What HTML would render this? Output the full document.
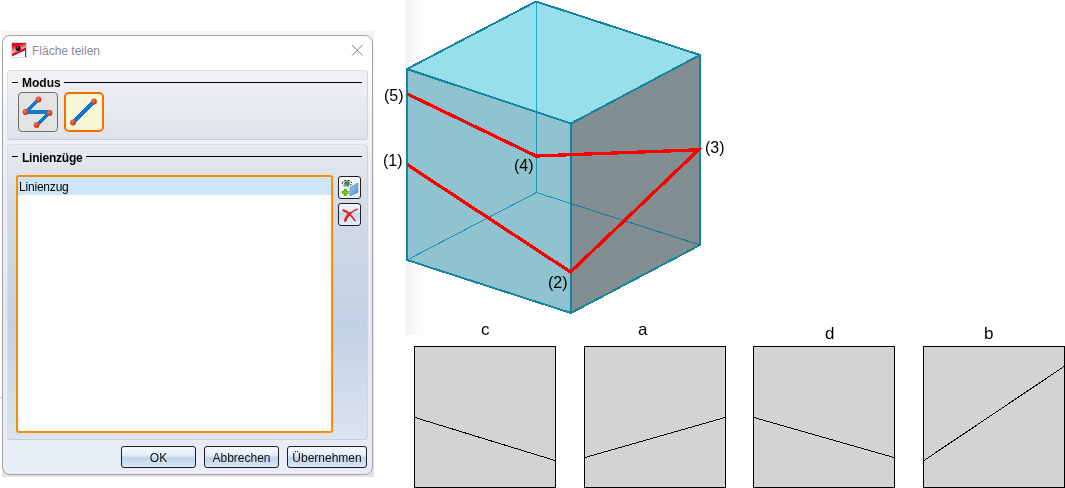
<!DOCTYPE html>
<html><head><meta charset="utf-8">
<style>
*{box-sizing:border-box;margin:0;padding:0}
svg,.hdr,.btn,.txt{will-change:transform}
html,body{width:1065px;height:488px;overflow:hidden;background:#fff;font-family:"Liberation Sans",sans-serif;position:relative}
.abs{position:absolute}
#shadow{left:2px;top:31px;width:372px;height:446px;background:linear-gradient(to bottom,#f4f4f4,#ececec 60%,#e2e2e2)}
#dlg{left:2px;top:35px;width:371px;height:440px;border:1px solid #a4a4a4;border-radius:8px;
 background:linear-gradient(to bottom,#ffffff 0px,#ffffff 30px,#eef2f8 80px,#e3e9f4 60%,#e8eef8 100%)}
#title{left:32px;top:44px;font-size:12px;color:#8a8a98;white-space:nowrap;line-height:14px}
.grp{border:1px solid #d9dee4;border-bottom-color:#c6cdd6;border-right-color:#cfd5dd;border-radius:4px}
#g1{left:7px;top:70px;width:361px;height:70px;background:linear-gradient(to bottom,#f1f2f4,#e6e9ee 60%,#dee3ea)}
#g2{left:7px;top:144px;width:361px;height:296px;background:linear-gradient(to bottom,#e8ebf0 0%,#d3dbe6 20%,#c9d5e4 45%,#c3d1e5 62%,#dce4ef 100%)}
.hdr{font-size:12px;font-weight:bold;color:#000;white-space:nowrap;line-height:14px}
.hline{height:1px;background:#000}
.btn{border:1px solid #1e1e1e;border-radius:3px;background:linear-gradient(to bottom,#f4f8fd 0%,#e6eef8 40%,#bfd3ea 55%,#dce8f5 100%);font-size:12px;color:#111;text-align:center;line-height:22px}
</style></head>
<body>
<div id="shadow" class="abs"></div>
<div id="dlg" class="abs"></div>
<!-- title icon -->
<svg class="abs" style="left:11px;top:42px" width="16" height="16" viewBox="0 0 16 16">
 <defs><linearGradient id="ig" x1="0" y1="0" x2="0.3" y2="1"><stop offset="0" stop-color="#e0001c"/><stop offset="0.25" stop-color="#e2101e"/><stop offset="0.55" stop-color="#f0a4a0"/><stop offset="0.85" stop-color="#fff0ea"/><stop offset="1" stop-color="#ffffff"/></linearGradient></defs>
 <rect x="0.5" y="0.5" width="15" height="15" fill="#fff" stroke="#d0dde3"/>
 <rect x="1" y="1" width="14" height="14" fill="url(#ig)"/>
 <polygon points="1,14 15,8 15,15 1,15" fill="#fff"/>
 <polygon points="1,11.8 15,5.6 15,8 1,14.2" fill="#e4001e"/>
 <rect x="14" y="7" width="1" height="8" fill="#e4001e"/>
 <line x1="3" y1="9.3" x2="9" y2="9.3" stroke="#888" stroke-width="0.7"/>
 <circle cx="7.1" cy="6.6" r="2.5" fill="#0a0a0a"/>
 <circle cx="6.5" cy="5.8" r="0.7" fill="#bbb"/>
</svg>
<div id="title" class="abs">Fläche teilen</div>
<svg class="abs" style="left:351px;top:44px" width="13" height="13" viewBox="0 0 13 13">
 <path d="M1 1 L11.5 11.5 M11.5 1 L1 11.5" stroke="#808080" stroke-width="1" fill="none"/>
</svg>

<div id="g1" class="abs grp"></div>
<div class="abs hline" style="left:12px;top:82px;width:6px"></div>
<div class="abs hdr" style="left:22px;top:76px">Modus</div>
<div class="abs hline" style="left:64px;top:82px;width:298px"></div>

<!-- mode buttons -->
<svg class="abs" style="left:0;top:0;width:0;height:0" width="0" height="0"><defs>
 <radialGradient id="dot" cx="0.38" cy="0.35" r="0.7"><stop offset="0" stop-color="#f27a5c"/><stop offset="0.55" stop-color="#dc4a2e"/><stop offset="1" stop-color="#b8321c"/></radialGradient>
</defs></svg>
<div class="abs" style="left:18px;top:92px;width:40px;height:40px;border:1px solid #6e6e6e;border-radius:4px;background:#e3e3e3"></div>
<svg class="abs" style="left:18px;top:92px" width="40" height="40" viewBox="18 92 40 40">
 <g stroke="#1476cc" stroke-width="3.6" shape-rendering="crispEdges">
  <line x1="38.5" y1="99.5" x2="25.5" y2="112"/>
  <line x1="25.5" y1="112.2" x2="49.5" y2="112.2"/>
  <line x1="49.5" y1="112.8" x2="36.5" y2="125"/>
 </g>
 <circle cx="38.5" cy="99.5" r="2.9" fill="url(#dot)"/>
 <circle cx="25.5" cy="112" r="2.9" fill="url(#dot)"/>
 <circle cx="49.5" cy="113" r="2.9" fill="url(#dot)"/>
 <circle cx="36.5" cy="125" r="2.9" fill="url(#dot)"/>
</svg>
<div class="abs" style="left:64px;top:92px;width:40px;height:40px;border:2px solid #ff6a00;border-radius:5px;background:#f8f8d6"></div>
<svg class="abs" style="left:64px;top:92px" width="40" height="40" viewBox="64 92 40 40">
 <line x1="94" y1="101.5" x2="73" y2="122.5" stroke="#1476cc" stroke-width="3.6" shape-rendering="crispEdges"/>
 <circle cx="94" cy="101.5" r="2.9" fill="url(#dot)"/>
 <circle cx="73" cy="122.5" r="2.9" fill="url(#dot)"/>
</svg>

<div id="g2" class="abs grp"></div>
<div class="abs hline" style="left:12px;top:156px;width:6px"></div>
<div class="abs hdr" style="left:22px;top:151px;letter-spacing:-0.22px">Linienzüge</div>
<div class="abs hline" style="left:86px;top:156px;width:276px"></div>

<!-- list box -->
<div class="abs" style="left:16px;top:175px;width:317px;height:258px;border:2px solid #ff8c00;border-radius:3px;background:#fff"></div>
<div class="abs" style="left:18px;top:177px;width:313px;height:18px;background:#cde5f8"></div>
<div class="abs txt" style="left:19px;top:180px;font-size:12px;line-height:14px;color:#000;letter-spacing:-0.2px">Linienzug</div>

<!-- side buttons -->
<div class="abs btn" style="left:338px;top:176px;width:23px;height:23px;border-radius:3px;background:linear-gradient(to bottom,#fbfcfe,#e4ebf4)"></div>
<svg class="abs" style="left:338px;top:176px" width="23" height="23" viewBox="0 0 23 23">
 <defs><linearGradient id="pg" x1="0" y1="0" x2="1" y2="1"><stop offset="0" stop-color="#a6d0f4"/><stop offset="1" stop-color="#4f8fd2"/></linearGradient></defs>
 <path d="M4 7.2 L6.3 4.5 L11.8 4.5 L14.1 7.2 L11.8 9.9 L6.3 9.9 Z" fill="#fff" stroke="#1a1a1a" stroke-width="0.9" stroke-dasharray="2.2 1.2"/>
 <ellipse cx="9" cy="7.3" rx="2.9" ry="2.4" fill="#3c9c3c"/>
 <path d="M7.3 6 Q9 5.3 10 7 Q9 9 7.5 8.5 Z" fill="#2f6fd0"/>
 <path d="M12 11.6 L19.8 6.9 L19.8 16.4 L12 19.8 Z" fill="url(#pg)" stroke="#4a84c0" stroke-width="0.7"/>
 <path d="M4 16.4 h6.6 M7.3 13.1 v6.6" stroke="#4a9400" stroke-width="2.9"/>
 <path d="M4.6 16.4 h5.4 M7.3 13.7 v5.4" stroke="#80d010" stroke-width="1.5"/>
</svg>
<div class="abs btn" style="left:338px;top:203px;width:23px;height:23px;border-radius:3px;background:linear-gradient(to bottom,#f2f6fb 0%,#dfe9f4 36%,#c4d7ea 42%,#d5e3f1 70%,#e6eff8 100%)"></div>
<svg class="abs" style="left:338px;top:203px" width="23" height="23" viewBox="0 0 23 23">
 <g fill="none" stroke="#dc2a22" stroke-linecap="round">
  <path d="M5.6 7.3 Q8 8 10.5 10.2" stroke-width="2.4"/>
  <path d="M10.5 10.2 Q14 13.5 17 17.5" stroke-width="1.6"/>
  <path d="M19.3 6.2 Q15.5 8 12.5 10" stroke-width="1.3"/>
  <path d="M12.5 10 Q8.5 13 7.2 17.6" stroke-width="2.6"/>
 </g>
</svg>

<!-- bottom buttons -->
<div class="abs btn" style="left:121px;top:446px;width:75px;height:22px">OK</div>
<div class="abs btn" style="left:204px;top:446px;width:75px;height:22px">Abbrechen</div>
<div class="abs btn" style="left:287px;top:446px;width:80px;height:22px">Übernehmen</div>

<div class="abs" style="left:405px;top:0;width:32px;height:335px;background:linear-gradient(to right,#f4f4f4,#fbfbfb 50%,#ffffff)"></div>
<div class="abs" style="left:0;top:397px;width:2px;height:1px;background:#c8c8c8"></div>
<!-- cube -->
<svg class="abs" style="left:0;top:0" width="1065" height="488" viewBox="0 0 1065 488">
 <polygon points="536,1.5 700,55 571,123.5 407,69" fill="#96dfeb"/>
 <polygon points="407,69 571,123.5 571,313 407,260" fill="#8fc3cf"/>
 <polygon points="571,123.5 700,55 700,245 571,313" fill="#828f92"/>
 <g stroke-width="1" fill="none" shape-rendering="crispEdges">
  <line x1="536.5" y1="2" x2="536.5" y2="112" stroke="#22a8d8"/>
  <line x1="536.5" y1="112" x2="536.5" y2="192.5" stroke="#1a90b8"/>
  <line x1="536.5" y1="192.5" x2="407" y2="260" stroke="#1a90b8"/>
  <line x1="536.5" y1="192.5" x2="571" y2="203.6" stroke="#1a90b8"/>
  <line x1="571" y1="203.6" x2="700" y2="245" stroke="#157a90"/>
 </g>
 <g stroke="#16849c" stroke-width="2" fill="none" stroke-linejoin="miter" shape-rendering="crispEdges">
  <polygon points="536,1.5 700,55 700,245 571,313 407,260 407,69"/>
  <polyline points="407,69 571,123.5 700,55"/>
  <line x1="571" y1="123.5" x2="571" y2="313"/>
 </g>
 <clipPath id="rc"><rect x="407" y="0" width="300" height="320"/></clipPath>
 <polyline clip-path="url(#rc)" points="407,93.8 536,156 698.5,149.8 570.5,272 407,164.5" fill="none" stroke="#ff0000" stroke-width="3.3" stroke-linejoin="miter" shape-rendering="crispEdges"/>
 <g font-family="Liberation Sans" font-size="16" fill="#000">
  <text x="384" y="101">(5)</text>
  <text x="383" y="166">(1)</text>
  <text x="514" y="171">(4)</text>
  <text x="705" y="153">(3)</text>
  <text x="548" y="288">(2)</text>
 </g>
 <!-- panels -->
 <g font-family="Liberation Sans" font-size="17" fill="#000">
  <text x="481" y="335">c</text>
  <text x="638" y="335">a</text>
  <text x="825" y="339">d</text>
  <text x="984" y="339">b</text>
 </g>
 <g fill="#d3d3d3" stroke="#000" stroke-width="1" shape-rendering="crispEdges">
  <rect x="414.5" y="346.5" width="141" height="141"/>
  <rect x="584.5" y="346.5" width="141" height="141"/>
  <rect x="753.5" y="346.5" width="141" height="141"/>
  <rect x="923.5" y="346.5" width="141" height="141"/>
 </g>
 <g stroke="#000" stroke-width="1" shape-rendering="crispEdges">
  <line x1="415" y1="417.5" x2="555" y2="460.5"/>
  <line x1="585" y1="457.5" x2="725" y2="417.5"/>
  <line x1="754" y1="417.5" x2="894" y2="457.5"/>
  <line x1="924" y1="460.5" x2="1064" y2="366.5"/>
 </g>
</svg>
</body></html>
